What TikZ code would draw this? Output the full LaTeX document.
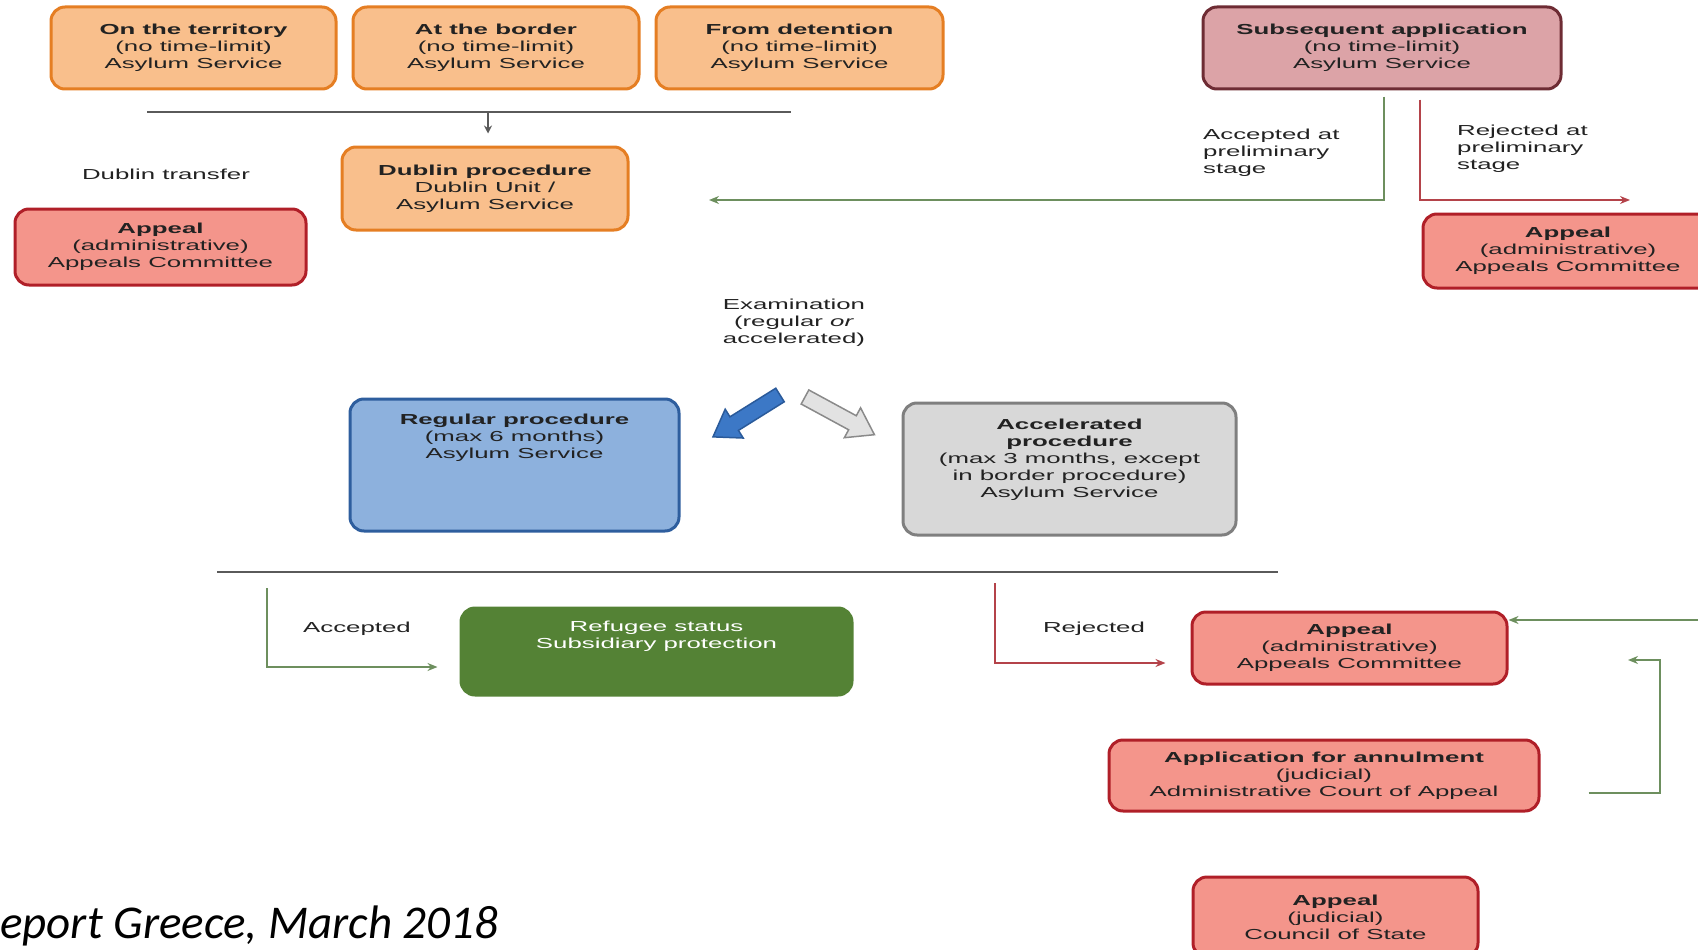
\documentclass[tikz,border=0pt]{standalone}
\usepackage{fontspec}
\setmainfont{Liberation Sans}
\newfontfamily\wfont[FakeStretch=1.78]{Liberation Sans}
\newfontfamily\footfont{Carlito}
\usetikzlibrary{arrows.meta,calc}
\definecolor{orfill}{HTML}{F9BF8C}
\definecolor{ordraw}{HTML}{E57E23}
\definecolor{subfill}{HTML}{DCA3A7}
\definecolor{subdraw}{HTML}{6E2C34}
\definecolor{apfill}{HTML}{F4958B}
\definecolor{apdraw}{HTML}{B01F28}
\definecolor{regfill}{HTML}{8DB1DD}
\definecolor{regdraw}{HTML}{2E5E9E}
\definecolor{accfill}{HTML}{D8D8D8}
\definecolor{accdraw}{HTML}{7F7F7F}
\definecolor{refill}{HTML}{548235}
\definecolor{gline}{HTML}{6D8F5E}
\definecolor{rline}{HTML}{B4434A}
\definecolor{hlinec}{HTML}{5A5A5A}
\definecolor{barrow}{HTML}{3C78C6}
\definecolor{barrowd}{HTML}{2A5A9A}
\definecolor{garrow}{HTML}{E2E2E2}
\definecolor{garrowd}{HTML}{8A8A8A}
\definecolor{txtc}{HTML}{222222}
\tikzset{
  box/.style={draw, line width=3pt, rounded corners=14pt, align=center, inner sep=0pt,
    font={\wfont\fontsize{14.5}{17}\selectfont}, text=txtc},
  orbox/.style={box, fill=orfill, draw=ordraw},
  apbox/.style={box, fill=apfill, draw=apdraw},
  txt/.style={align=center, inner sep=0pt, font={\wfont\fontsize{14.5}{17}\selectfont}, text=txtc},
  ltxt/.style={align=left, inner sep=0pt, font={\wfont\fontsize{14.5}{17}\selectfont}, text=txtc},
  hl/.style={draw=hlinec, line width=1.5pt},
  gconn/.style={draw=gline, line width=1.6pt, -{Stealth[length=10pt,width=8pt]}},
  rconn/.style={draw=rline, line width=1.6pt, -{Stealth[length=10pt,width=8pt]}},
  blockarrow/.style={line width=1.5pt, line join=miter}
}
\begin{document}
\begin{tikzpicture}[x=1pt,y=-1pt]
\useasboundingbox (0,0) rectangle (1698,950);
% top row
\node[orbox, minimum width=285pt, minimum height=82pt] (terr) at (193.5,48) {\textbf{On the territory}\\(no time-limit)\\Asylum Service};
\node[orbox, minimum width=286pt, minimum height=82pt] (bord) at (496,48) {\textbf{At the border}\\(no time-limit)\\Asylum Service};
\node[orbox, minimum width=287pt, minimum height=82pt] (det) at (799.5,48) {\textbf{From detention}\\(no time-limit)\\Asylum Service};
\node[box, fill=subfill, draw=subdraw, minimum width=358pt, minimum height=82pt] (subs) at (1382,48) {\textbf{Subsequent application}\\(no time-limit)\\Asylum Service};
% top line and dublin
\coordinate (hlL) at (147,112);
\coordinate (hlR) at (791,112);
\draw[hl] (hlL) -- (hlR);
\node[orbox, minimum width=286pt, minimum height=83pt] (dub) at (485,188.5) {\textbf{Dublin procedure}\\Dublin Unit /\\Asylum Service};
\draw[hl, -{Stealth[length=8pt,width=8pt]}] ([xshift=3pt]dub.north |- hlL) -- ([xshift=3pt,yshift=12pt]dub.north);
\node[txt] (dtr) at (166,174) {Dublin transfer};
\node[apbox, minimum width=291pt, minimum height=76pt] (apL) at (160.5,247) {\textbf{Appeal}\\(administrative)\\Appeals Committee};
% subsequent branches
\coordinate (accEnd) at (709,200);
\coordinate (rejEnd) at (1630,200);
\draw[gconn] ([xshift=2pt,yshift=-6pt]subs.south) |- (accEnd);
\draw[rconn] ([xshift=38pt,yshift=-9pt]subs.south) |- (rejEnd);
\node[ltxt, anchor=north west] (acclab) at (1203,129) {Accepted at\\preliminary\\stage};
\node[ltxt, anchor=north west] (rejlab) at (1457,125) {Rejected at\\preliminary\\stage};
\node[apbox, minimum width=290pt, minimum height=74pt] (apR) at (1568,251) {\textbf{Appeal}\\(administrative)\\Appeals Committee};
% examination
\node[txt] (exam) at (794,323) {Examination\\(regular \textit{or}\\accelerated)};
\begin{scope}[shift={(780,395)}, rotate=212]
  \draw[blockarrow, fill=barrow, draw=barrowd] (0,-8) -- (54,-8) -- (54,-17) -- (79,0) -- (54,17) -- (54,8) -- (0,8) -- cycle;
\end{scope}
\begin{scope}[shift={(805,397)}, rotate=-28.5]
  \draw[blockarrow, fill=garrow, draw=garrowd] (0,-8) -- (54,-8) -- (54,-17) -- (79,0) -- (54,17) -- (54,8) -- (0,8) -- cycle;
\end{scope}
% procedures
\node[box, fill=regfill, draw=regdraw, minimum width=329pt, minimum height=132pt] (reg) at (514.5,465) {};
\node[txt, anchor=north] (regT) at (514.5,414) {\textbf{Regular procedure}\\(max 6 months)\\Asylum Service};
\node[box, fill=accfill, draw=accdraw, minimum width=333pt, minimum height=132pt] (acc) at (1069.5,469) {};
\node[txt, anchor=north] (accT) at (1069.5,419) {\textbf{Accelerated}\\\textbf{procedure}\\(max 3 months, except\\in border procedure)\\Asylum Service};
% bottom line
\coordinate (blL) at (217,572);
\coordinate (blR) at (1278,572);
\draw[hl] (blL) -- (blR);
% outcomes
\node[box, fill=refill, draw=refill, minimum width=391pt, minimum height=87pt] (ref) at (656.5,651.5) {};
\node[txt, anchor=north, text=white] (refT) at (656.5,621) {Refugee status\\Subsidiary protection};
\coordinate (accTop) at (267,588);
\draw[gconn] (accTop) |- ([xshift=-22pt,yshift=-15.5pt]ref.west);
\node[txt] (acctx) at (357,629) {Accepted};
\node[apbox, minimum width=315pt, minimum height=72pt] (apB) at (1349.5,648) {\textbf{Appeal}\\(administrative)\\Appeals Committee};
\coordinate (rejTop) at (995,583);
\draw[rconn] (rejTop) |- ([xshift=-25pt,yshift=-15pt]apB.west);
\node[txt] (rejtx) at (1094,629) {Rejected};
\coordinate (rightIn) at (1700,620);
\draw[gconn] (rightIn) -- (apB.east |- rightIn);
\node[apbox, minimum width=430pt, minimum height=71pt] (ann) at (1324,775.5) {\textbf{Application for annulment}\\(judicial)\\Administrative Court of Appeal};
\coordinate (brkTop) at (1660,660);
\coordinate (brkEnd) at (1628,660);
\draw[gconn] ([xshift=48pt,yshift=-17.5pt]ann.east) -| (brkTop) -- (brkEnd);
\node[apbox, minimum width=285pt, minimum height=80pt] (apJ) at (1335.5,917) {\textbf{Appeal}\\(judicial)\\Council of State};
% footer
\node[anchor=base west, inner sep=0pt, font={\footfont\itshape\fontsize{47}{50}\selectfont}, text=black] (foot) at (0,938) {eport Greece, March 2018};
\end{tikzpicture}
\end{document}
